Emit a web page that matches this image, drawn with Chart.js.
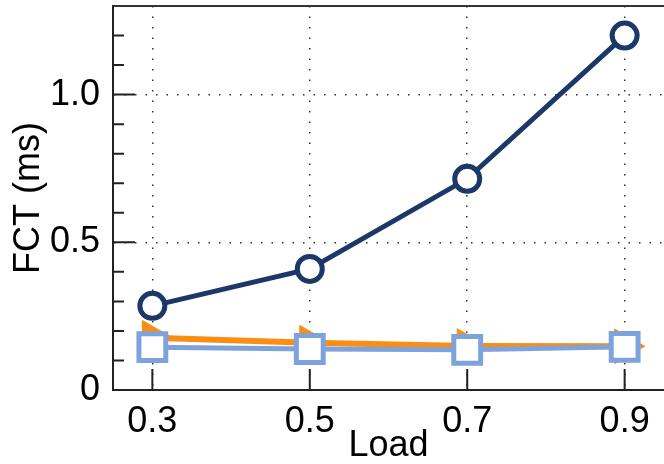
<!DOCTYPE html>
<html>
<head>
<meta charset="utf-8">
<script src="https://cdn.jsdelivr.net/npm/chart.js@4.4.0/dist/chart.umd.min.js"></script>
<style>
  body { margin: 0; background: #fff; }
  #wrap { width: 664px; height: 464px; }
</style>
</head>
<body>
<div id="wrap"><canvas id="myChart" width="664" height="464"></canvas></div>
<script>
const loads = [0.3, 0.5, 0.7, 0.9];
const circleSeries = [0.285, 0.41, 0.715, 1.2];
const triangleSeries = [0.177, 0.16, 0.149, 0.148];
const squareSeries = [0.145, 0.139, 0.136, 0.146];
const xTicks = [0.3, 0.5, 0.7, 0.9];
const yTicks = [0, 0.5, 1.0];
const yMinorTicks = [0.1, 0.2, 0.3, 0.4, 0.5, 0.6, 0.7, 0.8, 0.9, 1.0, 1.1, 1.2];

const FONT = '"Liberation Sans", Arial, Helvetica, sans-serif';
const toPoints = (vals) => loads.map((x, i) => ({ x: x, y: vals[i] }));

// inward tick marks + top frame line
const axisMarks = {
  id: 'axisMarks',
  beforeDatasetsDraw(chart) {
    const { ctx, chartArea: a, scales: { x, y } } = chart;
    ctx.save();
    ctx.strokeStyle = '#222';
    ctx.lineWidth = 2;
    ctx.beginPath();
    yMinorTicks.forEach(v => {
      const p = y.getPixelForValue(v);
      const major = yTicks.some(t => Math.abs(t - v) < 1e-6);
      ctx.moveTo(a.left, p);
      ctx.lineTo(a.left + (major ? 22 : 11), p);
    });
    xTicks.forEach(v => {
      const p = x.getPixelForValue(v);
      ctx.moveTo(p, a.bottom);
      ctx.lineTo(p, a.bottom - 21);
    });
    ctx.stroke();
    ctx.beginPath();
    ctx.strokeStyle = '#333';
    ctx.moveTo(a.left, a.top);
    ctx.lineTo(a.right, a.top);
    ctx.stroke();
    ctx.restore();
  }
};

new Chart(document.getElementById('myChart'), {
  type: 'line',
  data: {
    datasets: [
      {
        label: 'A',
        data: toPoints(circleSeries),
        borderColor: '#1c3869',
        borderWidth: 5,
        pointStyle: 'circle',
        pointRadius: 12.5,
        pointBorderWidth: 5,
        pointBackgroundColor: '#fff',
        pointBorderColor: '#1c3869',
        order: 1
      },
      {
        label: 'C',
        data: toPoints(squareSeries),
        borderColor: '#7ea3dc',
        borderWidth: 5,
        pointStyle: 'rect',
        pointRadius: 19,
        pointBorderWidth: 5,
        pointBackgroundColor: '#fff',
        pointBorderColor: '#7ea3dc',
        order: 2
      },
      {
        label: 'B',
        data: toPoints(triangleSeries),
        borderColor: '#fb8e12',
        borderWidth: 6,
        pointStyle: 'triangle',
        pointRotation: 90,
        pointRadius: 20,
        pointBorderWidth: 1,
        pointBackgroundColor: '#fb8e12',
        pointBorderColor: '#fb8e12',
        order: 3
      }
    ]
  },
  options: {
    responsive: false,
    animation: false,
    clip: false,
    layout: { autoPadding: false, padding: { top: 6, right: 0, left: 0, bottom: 0 } },
    plugins: {
      legend: { display: false },
      tooltip: { enabled: false }
    },
    elements: { line: { tension: 0 } },
    scales: {
      x: {
        type: 'linear',
        min: 0.25,
        max: 0.95,
        afterBuildTicks: (s) => { s.ticks = xTicks.map(v => ({ value: v })); },
        afterFit: (s) => {
          s.height = 74;
          s.paddingLeft = 0; s.paddingRight = 0; s.paddingTop = 0; s.paddingBottom = 0;
        },
        grid: { color: '#333', lineWidth: 1.5, drawTicks: false },
        border: { display: true, color: '#222', width: 2, dash: [1.5, 9] },
        ticks: {
          padding: 10,
          color: '#000',
          font: { family: FONT, size: 36 },
          callback: (v) => Number(v).toFixed(1)
        },
        title: {
          display: true,
          text: 'Load',
          color: '#000',
          font: { family: FONT, size: 36, lineHeight: 1 },
          padding: { top: 0, bottom: 0 }
        }
      },
      y: {
        min: 0,
        max: 1.3,
        afterBuildTicks: (s) => { s.ticks = yTicks.map(v => ({ value: v })); },
        afterFit: (s) => {
          s.width = 113;
          s.paddingLeft = 0; s.paddingRight = 0; s.paddingTop = 0; s.paddingBottom = 0;
        },
        grid: {
          color: (c) => (c.tick && c.tick.value === 0 ? 'rgba(0,0,0,0)' : '#333'),
          lineWidth: 1.5,
          drawTicks: false
        },
        border: { display: true, color: '#222', width: 2, dash: [1.5, 9] },
        ticks: {
          padding: 13,
          color: '#000',
          font: { family: FONT, size: 36 },
          callback: (v) => (v === 0 ? '0' : Number(v).toFixed(1))
        },
        title: {
          display: true,
          text: 'FCT (ms)',
          color: '#000',
          font: { family: FONT, size: 36, lineHeight: 1 },
          padding: { top: 11, bottom: 0 }
        }
      }
    }
  },
  plugins: [axisMarks]
});
</script>
</body>
</html>
